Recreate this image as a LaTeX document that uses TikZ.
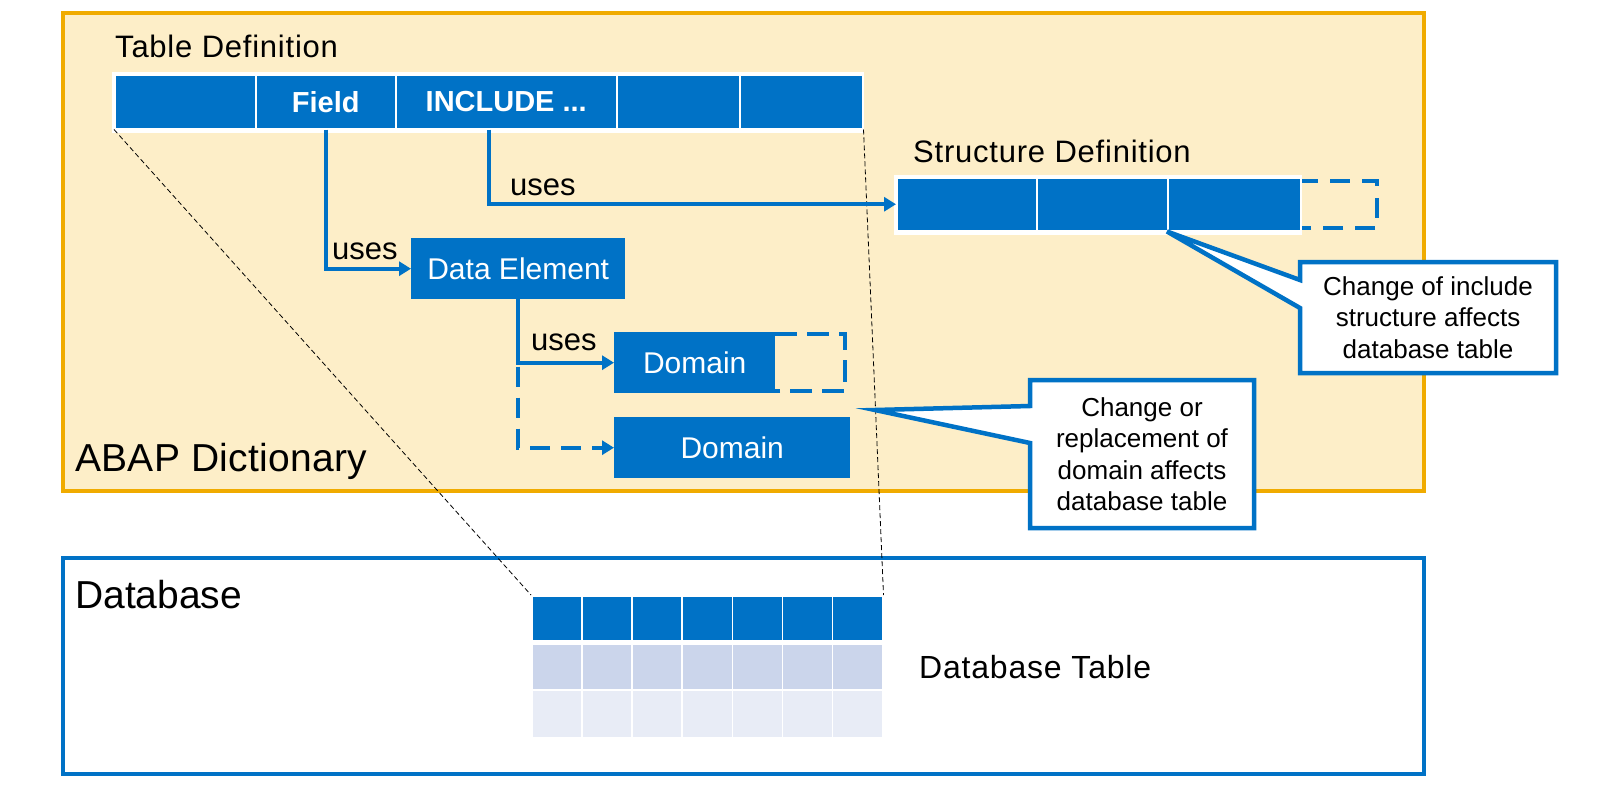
\documentclass[tikz,border=0pt]{standalone}
\usepackage{fontspec}
\setmainfont{Liberation Sans}
\usetikzlibrary{arrows.meta}
\definecolor{sapblue}{RGB}{0,114,198}
\definecolor{sapgold}{RGB}{240,171,0}
\definecolor{cream}{RGB}{253,238,200}
\definecolor{rowb}{RGB}{203,213,235}
\definecolor{rowc}{RGB}{232,236,246}
\begin{document}
\begin{tikzpicture}[x=1pt,y=-1pt,
  cell/.style={draw=white, fill=sapblue, line width=1.5pt, minimum height=54pt, inner sep=0pt, anchor=north west, text=white, font=\fontsize{29}{34}\selectfont\bfseries},
  blubox/.style={fill=sapblue, inner sep=0pt, anchor=north west, minimum height=61pt, text=white, font=\fontsize{30}{36}\selectfont},
  dbcell/.style={draw=white, line width=1.5pt, inner sep=0pt, anchor=north west, minimum width=50.143pt},
  conn/.style={draw=sapblue, line width=4pt, -{Triangle[length=12pt,width=14pt]}},
  ghost/.style={draw=sapblue, line width=4pt, dash pattern=on 20pt off 12pt},
  guide/.style={draw=black, line width=0.8pt, dash pattern=on 5pt off 3pt},
  lbl/.style={inner sep=0pt, anchor=base west, font=\fontsize{31}{37}\selectfont},
  spaced/.style={font={\fontsize{31}{37}\selectfont\addfontfeature{LetterSpace=2.5}}},
  callbox/.style={draw=sapblue, fill=white, line width=4.5pt},
  calltext/.style={inner sep=0pt, align=center, font=\fontsize{26}{31.5}\selectfont}]
\useasboundingbox (0,0) rectangle (1600,787);

% containers
\draw[sapgold, fill=cream, line width=4.5pt] (63,13) rectangle (1424,491);
\draw[sapblue, fill=white, line width=4.5pt] (63,558) rectangle (1424,774);

% titles
\node[lbl, spaced] (tdef) at (115,57) {Table Definition};
\node[lbl, spaced] (sdef) at (913,162) {Structure Definition};
\node[lbl, font={\fontsize{39}{46}\selectfont\addfontfeature{LetterSpace=0.8}}] (abap) at (75,471) {ABAP Dictionary};
\node[lbl, font=\fontsize{39}{46}\selectfont] (dbase) at (75,608) {Database};
\node[lbl, font={\fontsize{32}{38}\selectfont\addfontfeature{LetterSpace=2.5}}] (dbtab) at (919,678) {Database Table};

% table definition bar
\fill[white] (112,72) rectangle (864,133);
\node[cell, minimum width=141pt] (t1) at (114,74) {};
\node[cell, minimum width=140pt] (t2) at (255,74) {Field};
\node[cell, minimum width=221pt] (t3) at (395,74) {INCLUDE ...};
\node[cell, minimum width=123pt] (t4) at (616,74) {};
\node[cell, minimum width=123pt] (t5) at (739,74) {};

% structure definition bar
\draw[ghost] (1298,181) -- (1377,181) -- (1377,228) -- (1298,228);
\fill[white] (894,175) rectangle (1302,235);
\node[cell, minimum width=140pt, minimum height=53pt] (s1) at (896,177) {};
\node[cell, minimum width=131pt, minimum height=53pt] (s2) at (1036,177) {};
\node[cell, minimum width=133pt, minimum height=53pt] (s3) at (1167,177) {};

% data element and domains
\node[blubox, minimum width=214pt] (de) at (411,238) {Data Element};
\draw[ghost, dash pattern=on 22pt off 10pt] (775,334) -- (845,334) -- (845,391) -- (775,391);
\node[blubox, minimum width=161pt] (dom1) at (614,332) {Domain};
\node[blubox, minimum width=236pt] (dom2) at (614,417) {Domain};

% database table
\foreach \c in {1,...,7} {
  \node[dbcell, fill=sapblue, minimum height=45pt] (db-1-\c) at ({531+(\c-1)*50.143},595) {};
  \node[dbcell, fill=rowb, minimum height=46pt] (db-2-\c) at ({531+(\c-1)*50.143},643) {};
  \node[dbcell, fill=rowc, minimum height=48pt] (db-3-\c) at ({531+(\c-1)*50.143},689) {};
}

% guide lines
\draw[guide] (t1.south west) -- (db-1-1.north west);
\draw[guide] (t5.south east) -- (db-1-7.north east);

% connectors
\draw[conn] (t2.south) |- (de.west);
\draw[conn] ([xshift=-17pt]t3.south) |- (s1.west);
\draw[conn] (de.south) |- (dom1.west);
\coordinate (split) at ([yshift=-4pt]de.south |- dom1.west);
\draw[conn, dash pattern=on 20pt off 11pt] (split) |- (dom2.west);

\node[lbl] (uses1) at (510,195) {uses};
\node[lbl] (uses2) at (332,259) {uses};
\node[lbl] (uses3) at (531,350) {uses};

% callouts
\draw[callbox] (1300,262) -- (1556,262) -- (1556,373) -- (1300,373) -- (1300,308) -- (s3.south west) -- (1300,280) -- cycle;
\node[calltext] (c1) at (1428,317.5) {Change of include\\structure affects\\database table};
\coordinate (tip2) at (875,410);
\draw[callbox] (1030,380) -- (1254,380) -- (1254,528) -- (1030,528) -- (1030,443) -- (tip2) -- (1030,406) -- cycle;
\node[calltext] (c2) at (1142,454) {Change or\\replacement of\\domain affects\\database table};
\end{tikzpicture}
\end{document}
